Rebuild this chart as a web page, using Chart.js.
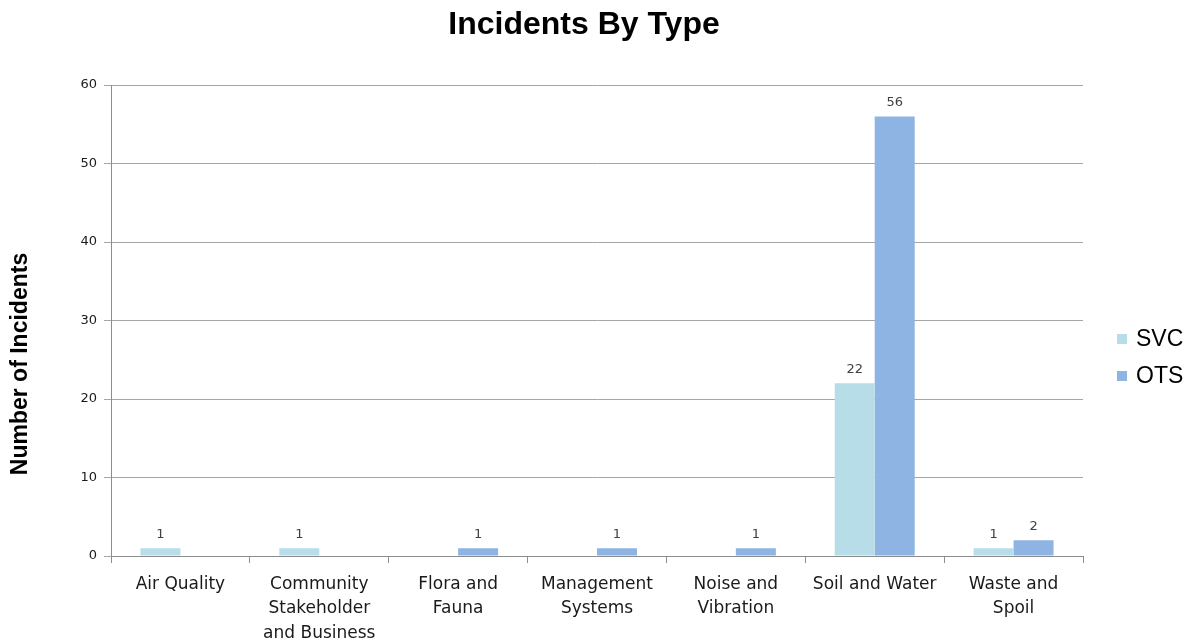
<!DOCTYPE html>
<html>
<head>
<meta charset="utf-8">
<script src="https://cdn.jsdelivr.net/npm/chart.js@4.4.1/dist/chart.umd.min.js"></script>
<style>
  html, body { margin: 0; padding: 0; background: #fff; }
  #wrap { width: 1197px; height: 639px; }
</style>
</head>
<body>
<div id="wrap"><canvas id="incidents-chart" width="1197" height="639"></canvas></div>
<script>
// Incident counts per category
const categories = [
  'Air Quality',
  ['Community', 'Stakeholder', 'and Business'],
  ['Flora and', 'Fauna'],
  ['Management', 'Systems'],
  ['Noise and', 'Vibration'],
  'Soil and Water',
  ['Waste and', 'Spoil']
];
const svcCounts = [1, 1, null, null, null, 22, 1];
const otsCounts = [null, null, 1, 1, 1, 56, 2];
const yTicks = [0, 10, 20, 30, 40, 50, 60];
const chartTitle = 'Incidents By Type';
const yAxisTitle = 'Number of Incidents';

const gridGray = '#a6a6a6';
const axisGray = '#8c8c8c';
const arialFamily = '"Liberation Sans", Arial, sans-serif';
const tickFamily = '"DejaVu Sans", Verdana, sans-serif';

// Writes the count above each bar that has one
const barValueLabels = {
  id: 'barValueLabels',
  afterDatasetsDraw(chart) {
    const ctx = chart.ctx;
    ctx.save();
    ctx.font = '13px ' + tickFamily;
    ctx.fillStyle = '#404040';
    ctx.textAlign = 'center';
    ctx.textBaseline = 'bottom';
    chart.data.datasets.forEach((ds, i) => {
      const meta = chart.getDatasetMeta(i);
      meta.data.forEach((bar, j) => {
        const v = ds.data[j];
        if (v === null || v === undefined) return;
        ctx.fillText(String(v), bar.x, bar.y - 7);
      });
    });
    ctx.restore();
  }
};

// Title across the whole canvas, rotated y-axis title and the series key
const sideText = {
  id: 'sideText',
  afterDraw(chart) {
    const ctx = chart.ctx;
    ctx.save();
    ctx.fillStyle = '#000';
    ctx.font = 'bold 32px ' + arialFamily;
    ctx.textAlign = 'center';
    ctx.textBaseline = 'middle';
    ctx.fillText(chartTitle, 584, 25);
    ctx.restore();

    ctx.save();
    ctx.fillStyle = '#000';
    ctx.font = 'bold 23px ' + arialFamily;
    ctx.textAlign = 'center';
    ctx.textBaseline = 'middle';
    ctx.translate(21, 364);
    ctx.rotate(-Math.PI / 2);
    ctx.fillText(yAxisTitle, 0, 0);
    ctx.restore();

    ctx.save();
    ctx.font = '23px ' + arialFamily;
    ctx.textAlign = 'left';
    ctx.textBaseline = 'middle';
    chart.data.datasets.forEach((ds, i) => {
      const y = 339 + i * 37;
      ctx.fillStyle = ds.backgroundColor;
      ctx.fillRect(1117, y - 5, 10, 10);
      ctx.fillStyle = '#000';
      ctx.fillText(ds.label, 1136, y + 1);
    });
    ctx.restore();
  }
};

const chart = new Chart(document.getElementById('incidents-chart').getContext('2d'), {
  type: 'bar',
  data: {
    labels: categories,
    datasets: [
      {
        label: 'SVC',
        data: svcCounts,
        backgroundColor: '#b7dde8',
        borderWidth: 0
      },
      {
        label: 'OTS',
        data: otsCounts,
        backgroundColor: '#8eb4e3',
        borderWidth: 0
      }
    ]
  },
  options: {
    responsive: false,
    animation: false,
    layout: { padding: { left: 0, right: 114, top: 85, bottom: 0 } },
    datasets: {
      bar: { categoryPercentage: 0.576, barPercentage: 1.0, skipNull: false }
    },
    plugins: {
      title: { display: false },
      legend: { display: false },
      tooltip: { enabled: false }
    },
    scales: {
      x: {
        grid: {
          display: true,
          drawOnChartArea: false,
          drawTicks: true,
          tickLength: 7,
          color: axisGray
        },
        border: { display: true, color: axisGray, width: 1 },
        ticks: {
          color: '#1a1a1a',
          padding: 9,
          maxRotation: 0,
          autoSkip: false,
          font: { family: tickFamily, size: 17, lineHeight: 1.44 }
        },
        afterFit(scale) { scale.height = 83; }
      },
      y: {
        min: 0,
        max: 60,
        afterBuildTicks(scale) { scale.ticks = yTicks.map(v => ({ value: v })); },
        grid: {
          color: gridGray,
          drawTicks: true,
          tickLength: 7,
          lineWidth: 1
        },
        border: { display: true, color: axisGray, width: 1 },
        ticks: {
          color: '#1a1a1a',
          padding: 7,
          font: { family: tickFamily, size: 13 }
        },
        afterFit(scale) { scale.width = 111; }
      }
    }
  },
  plugins: [barValueLabels, sideText]
});
</script>
</body>
</html>
